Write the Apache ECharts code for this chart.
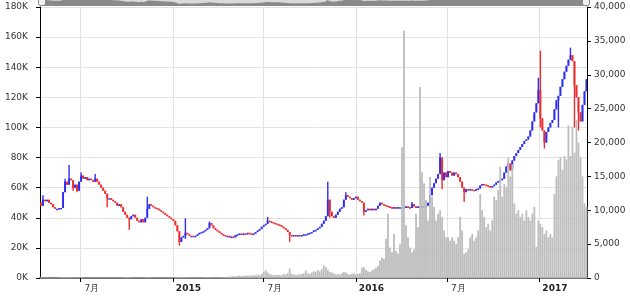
<!DOCTYPE html>
<html>
<head>
<meta charset="utf-8">
<script src="https://cdn.jsdelivr.net/npm/echarts@6/dist/echarts.min.js"></script>
<style>html,body{margin:0;padding:0;background:#fff}#c{width:630px;height:298px}</style>
</head>
<body>
<div id="c"></div>
<script>
// ---- data (4-day periods starting 2014-04-11) ----
const startDate = '2014-04-11';
const periodDays = 4;
const firstOpen = 50; // K JPY
// closing price per period, thousand JPY
const closes = [
48,52,51,52,50,49,47,46,46,46.5,
46.5,57,64,62,66,65,60,62,58,64,
68,66,67,65,66,65,64,66,64,62,
60,58,56,53,53,52,51,50,48,49,
47,44,42,40,39,41,42,40,38,37,
39,37,40,46,49,48,47,46.5,46,45,
44,43,42,41,40,39,38,35,31,24,
27,28,30,29,28,28,27.5,28,29,30,
30.5,31,32,33,36.5,35,33,32,31,30,
29,28.5,28,28,27,27.5,27,28.5,29,29.5,
29,29.5,29,30,29.5,29,29.5,30.5,31.5,32.5,
34,35,36,38,37.5,37,36.5,36,35.5,35,
34,33,32,30.5,28.5,28,28.5,28,28.5,28,
28.5,29,29,29.5,30,30.5,31.5,32,33,34,
36,38,41,52,44,41,40,42,44,46,
47,52,55,54,53,52,53,54,52,51,
50,44,45,46,45,46,45,46,48,50,
49,48.5,48,47.5,47,46.5,47,46.5,47,47,
46.5,47,47.5,47,46.5,49,47.5,47,47.5,47,
47.5,47.5,48,50,55,60,63,66,69,80,
65,70,67,71,70,68,70,69,67,64,
60,57,59,58.5,59,58.5,58,59,59.5,61.5,
62.5,62,61.5,61,60.5,61,62,63.5,64.5,65,
66,70,74,76,72,78,81,83,85,87,
89,91,92,94,98,104,110,116,125,106,
98,90,97,100,103,105,112,118,121,127,
132,137,141,145,148,144,128,120,110,104,
115,124,132
];
// notable wick extremes: [period index, value]
const highSpikes = [[1,55],[12,66],[14,75],[20,70],[27,69],[53,54],[72,39.6],[84,37.5],[113,40.5],[143,64],[152,57],[185,50.5],[199,83],[248,133],[249,151],[264,153]];
const lowSpikes = [[16,58],[18,57],[33,47],[44,32],[69,21.5],[72,26],[124,24],[144,40],[161,41.5],[200,59],[211,50.5],[234,71],[249,100],[251,86],[258,100],[266,100],[268,98]];
// volume per period
const volumes = [
60,80,50,70,40,50,30,40,30,60,
90,120,100,80,110,70,60,80,50,70,
90,60,50,40,50,60,40,50,60,70,
50,60,80,70,50,60,50,40,50,60,
70,80,90,120,100,80,60,50,60,70,
60,50,80,120,90,70,60,50,60,50,
50,60,50,60,80,70,90,110,130,220,
150,120,140,100,90,80,90,80,70,80,
90,100,110,130,120,100,90,80,90,100,
110,120,150,180,
200,250,300,250,300,350,
300,350,300,400,350,400,350,
450,500,400,600,
900,1150,800,600,
500,450,400,500,450,400,600,500,700,
1400,
600,500,450,500,550,600,700,
1100,700,600,800,1000,900,
1200,1000,1300,1900,1600,1200,900,800,700,
500,600,500,700,900,800,600,500,600,700,500,600,700,
1500,1600,1200,1000,900,1100,1300,1500,1800,
2600,3000,2800,5800,
9500,
4500,3800,6500,4000,3600,
5000,19300,36500,7800,
6000,4500,3800,4200,
9500,7500,28200,
15600,14000,11500,8500,
14900,12000,
10500,8500,9500,10000,
9000,7000,6000,
6000,5500,6000,5500,5000,6000,
9000,7000,
3600,3800,4200,
6000,6500,5500,6000,7000,
12400,10000,
9000,7500,8000,7000,8500,
12000,11500,13000,16400,
12000,13900,13400,
17800,15000,16800,
11000,9500,
10000,9000,9500,8500,10000,9000,8500,9500,
10500,4600,
8500,8000,7500,6500,7000,6000,6500,6000,
12400,15000,
17400,17800,16000,18000,17500,
22500,18000,
22300,18500,
23300,20000,
17800,15000,
11000,10500
];
const axisStart = '2014-04-11';
const axisEnd = '2017-04-06';
const tickDates = ['2014-07-01','2015-01-01','2015-07-01','2016-01-01','2016-07-01','2017-01-01'];
const tickLabels = ['7月','2015','7月','2016','7月','2017'];

// ---- build ----
const DAY = 86400000;
const toT = s => { const p = s.split('-').map(Number); return Date.UTC(p[0], p[1]-1, p[2]); };
const t0 = toT(startDate);
const hiMap = {}, loMap = {};
highSpikes.forEach(([i,v]) => hiMap[i] = v);
lowSpikes.forEach(([i,v]) => loMap[i] = v);
const candles = [], vols = [], closeLine = [];
closes.forEach((c, i) => {
  const t = t0 + (periodDays*i + periodDays/2) * DAY;
  const o = i === 0 ? firstOpen : closes[i-1];
  const hi = hiMap[i] != null ? hiMap[i] : Math.max(o, c);
  const lo = loMap[i] != null ? loMap[i] : Math.min(o, c);
  candles.push([t, o, c, lo, hi]);
  vols.push([t, volumes[i] != null ? volumes[i] : 0]);
  closeLine.push([t, c]);
});
const tickTimes = tickDates.map(toT);

const chart = echarts.init(document.getElementById('c'), null, {renderer: 'canvas'});
const labelFont = 'DejaVu Sans';
const BLUE = '#2e2ef2', RED = '#ee2a2a';

function renderCandle(params, api) {
  const t = api.value(0), o = api.value(1), c = api.value(2), lo = api.value(3), hi = api.value(4);
  const pO = api.coord([t, o]), pC = api.coord([t, c]);
  const pL = api.coord([t, lo]), pH = api.coord([t, hi]);
  const w = api.size([periodDays * DAY, 0])[0];
  const bw = Math.max(1.5, w * 0.95);
  const col = c >= o ? BLUE : RED;
  const top = Math.min(pO[1], pC[1]);
  const h = Math.max(1.5, Math.abs(pO[1] - pC[1]));
  return {
    type: 'group',
    children: [
      {type: 'line', shape: {x1: pL[0], y1: pL[1], x2: pH[0], y2: pH[1]}, style: {stroke: col, lineWidth: 1.4}},
      {type: 'rect', shape: {x: pO[0] - bw / 2, y: top, width: bw, height: h}, style: {fill: col}}
    ]
  };
}

chart.setOption({
  animation: false,
  backgroundColor: '#fff',
  grid: [
    {left: 40, right: 43, top: 7, bottom: 20, containLabel: false, outerBoundsMode: 'none'},
    {left: 40, right: 43, top: 0, height: 6, show: true, backgroundColor: '#dadada', borderWidth: 0, containLabel: false, outerBoundsMode: 'none'}
  ],
  graphic: [
    {type: 'rect', left: 38, top: -3, z: 100, shape: {width: 7, height: 8, r: 2}, style: {fill: '#f2f2f2', stroke: '#888', lineWidth: 1}},
    {type: 'rect', left: 582, top: -3, z: 100, shape: {width: 7, height: 8, r: 2}, style: {fill: '#f2f2f2', stroke: '#888', lineWidth: 1}}
  ],
  xAxis: [{
    type: 'value', gridIndex: 0,
    min: toT(axisStart), max: toT(axisEnd),
    axisLine: {onZero: false, lineStyle: {color: '#777', width: 2}},
    axisTick: {show: true, length: 4, customValues: tickTimes, lineStyle: {color: '#000'}},
    splitLine: {show: true, lineStyle: {color: '#e2e2e2', width: 1}},
    axisLabel: {
      customValues: tickTimes,
      align: 'left', margin: 6,
      fontSize: 9, fontFamily: labelFont, color: '#333',
      formatter: function (v) {
        let k = 0, best = Infinity;
        tickTimes.forEach((tt, j) => { const d = Math.abs(tt - v); if (d < best) { best = d; k = j; } });
        const s = tickLabels[k];
        return /^\d+$/.test(s) ? '{y|' + s + '}' : '{m|' + s + '}';
      },
      rich: {
        y: {fontWeight: 'bold', fontSize: 9, fontFamily: labelFont, color: '#222', padding: [0,0,0,3]},
        m: {fontSize: 9, fontFamily: labelFont, color: '#333', padding: [0,0,0,4]}
      }
    }
  }, {
    type: 'value', gridIndex: 1, min: toT(axisStart), max: toT(axisEnd), show: false
  }],
  yAxis: [{
    type: 'value', gridIndex: 0, min: 0, max: 180, interval: 20, position: 'left',
    axisLine: {show: true, lineStyle: {color: '#000', width: 1}},
    axisTick: {show: true, length: 4, lineStyle: {color: '#000'}},
    splitLine: {show: true, lineStyle: {color: '#e2e2e2', width: 1}},
    axisLabel: {formatter: v => v + 'K', fontSize: 9, fontFamily: labelFont, color: '#333', margin: 12}
  }, {
    type: 'value', gridIndex: 0, min: 0, max: 40000, interval: 5000, position: 'right',
    axisLine: {show: true, lineStyle: {color: '#000', width: 1}},
    axisTick: {show: true, length: 4, lineStyle: {color: '#000'}},
    splitLine: {show: false},
    axisLabel: {formatter: v => v.toLocaleString('en-US'), fontSize: 9, fontFamily: labelFont, color: '#333', margin: 7}
  }, {
    type: 'value', gridIndex: 1, min: 10, max: 52, show: false
  }],
  series: [{
    type: 'bar', name: 'volume', xAxisIndex: 0, yAxisIndex: 1, data: vols,
    barWidth: 1.8, itemStyle: {color: '#bdbdbd'}, silent: true
  }, {
    type: 'custom', name: 'price', xAxisIndex: 0, yAxisIndex: 0, data: candles,
    encode: {x: 0, y: [1, 2, 3, 4]}, renderItem: renderCandle, silent: true, clip: true
  }, {
    type: 'line', xAxisIndex: 1, yAxisIndex: 2, data: closeLine, showSymbol: false, silent: true,
    clip: true, lineStyle: {width: 0}, areaStyle: {color: '#8a8a8a', opacity: 1, origin: 'start'}
  }]
});
</script>
</body>
</html>
